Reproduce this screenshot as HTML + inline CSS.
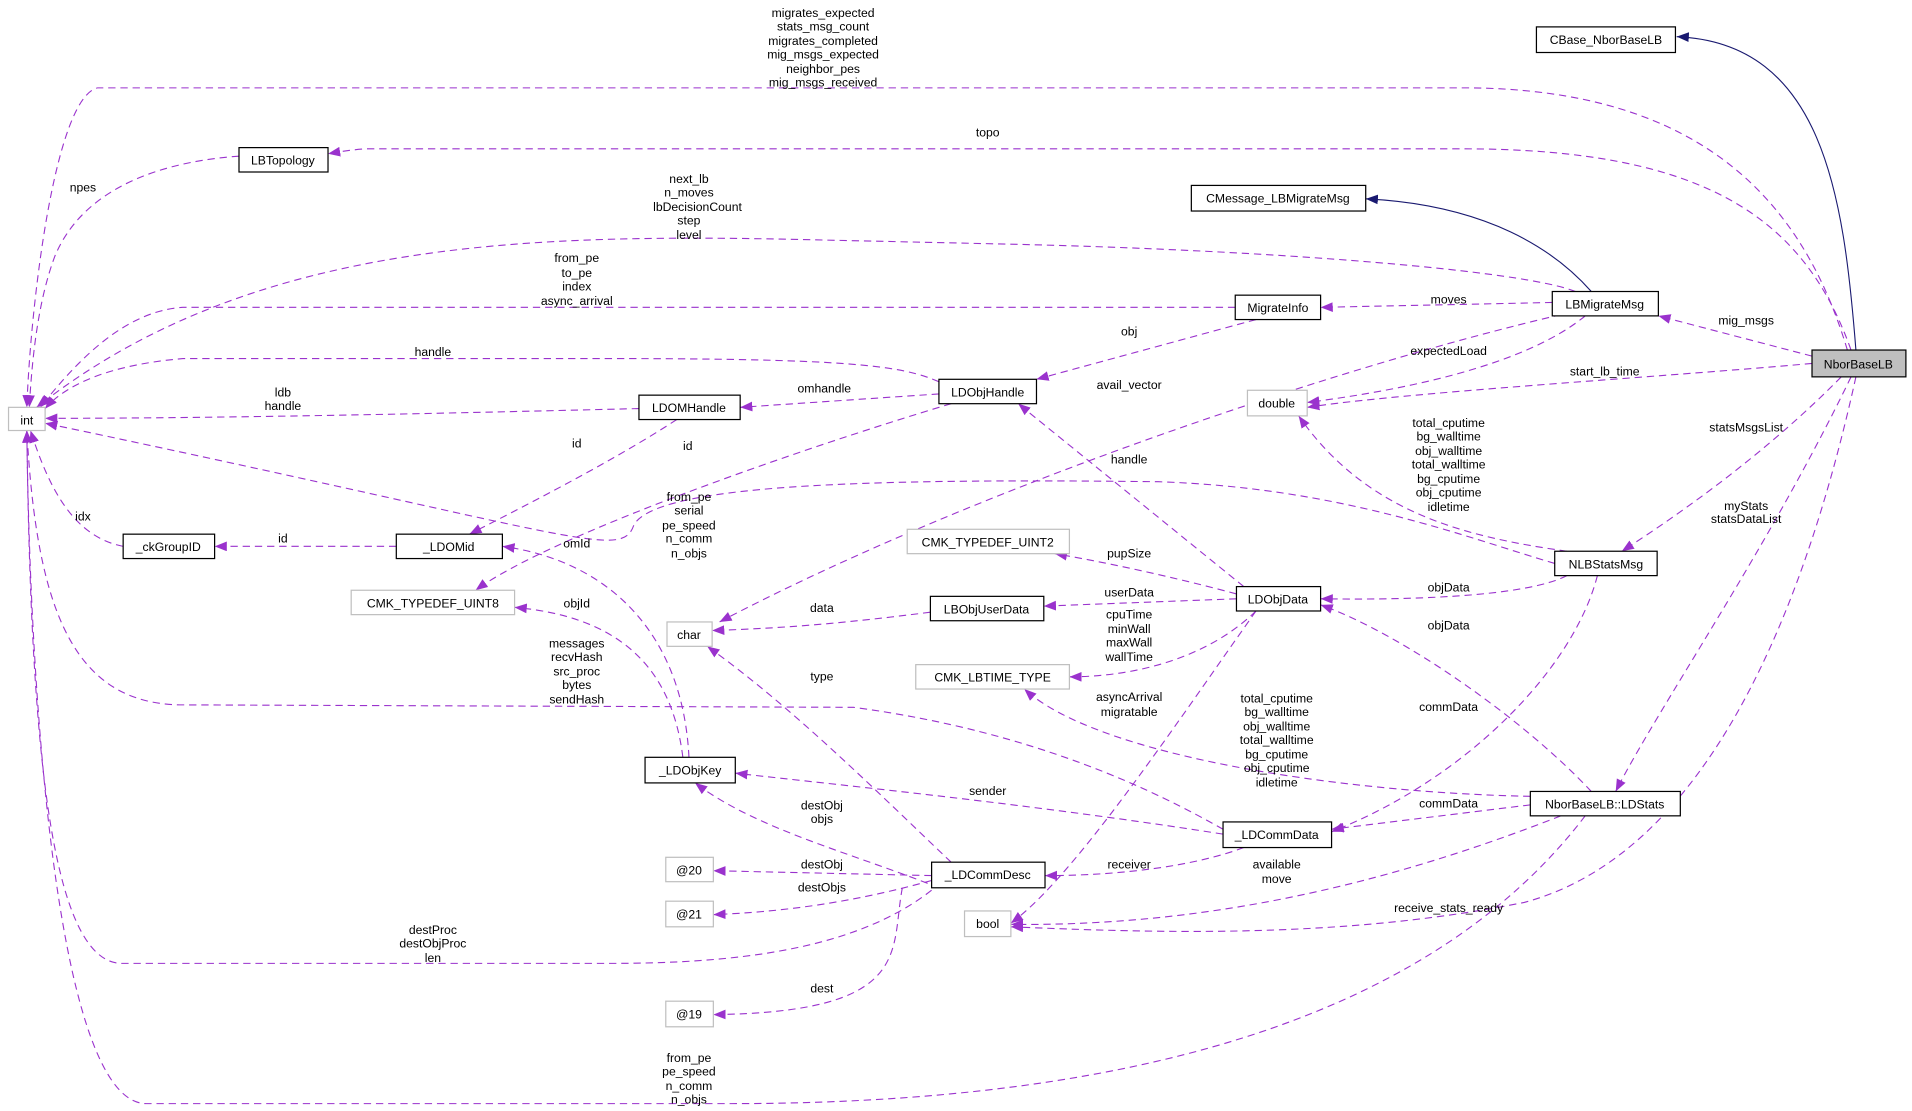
<!DOCTYPE html>
<html><head><meta charset="utf-8"><style>
html,body{margin:0;padding:0;background:#fff;}
svg{display:block;}
text{font-family:"Liberation Sans",Arial,sans-serif;font-size:10px;fill:#000;}
.e{fill:none;stroke:#9a32cd;stroke-width:0.9;stroke-dasharray:6,4;marker-end:url(#ap);}
.n{fill:none;stroke:#191970;stroke-width:0.9;marker-end:url(#an);}
.b{fill:#fff;stroke:#000;stroke-width:1;}
.g{fill:#fff;stroke:#bfbfbf;stroke-width:1;}
</style></head><body>
<svg width="1912" height="1111" viewBox="0 0 1568 911" xmlns="http://www.w3.org/2000/svg">
<defs>
<marker id="ap" markerUnits="userSpaceOnUse" markerWidth="12" markerHeight="10" refX="10" refY="4" orient="auto"><path d="M0,0 L10,4 L0,8 z" fill="#9a32cd"/></marker>
<marker id="an" markerUnits="userSpaceOnUse" markerWidth="12" markerHeight="10" refX="10" refY="4" orient="auto"><path d="M0,0 L10,4 L0,8 z" fill="#191970"/></marker>
</defs>
<!-- edges -->
<path class="n" d="M1522,287 C1512,160 1495,35 1375,30"/>
<path class="n" d="M1305,239 C1275,205 1220,168 1120,163"/>
<path class="e" d="M1515,287 C1480,170 1400,72 1200,72 L80,72 C45,80 25,250 22,334"/>
<path class="e" d="M1518,287 C1480,180 1400,122 1200,122 L300,122 C285,123 275,125 269,126"/>
<path class="e" d="M196,128 C140,132 70,150 45,210 C30,250 26,300 24,334"/>
<path class="e" d="M1292,239 C1250,222 1050,205 820,200 L640,196 C420,192 200,200 30,334"/>
<path class="e" d="M1013,252 L150,252 C100,255 60,300 33,334"/>
<path class="e" d="M1273,248 L1083,252"/>
<path class="e" d="M1300,259 C1250,300 1150,320 1072,330"/>
<path class="e" d="M1486,292 L1360,259"/>
<path class="e" d="M1486,298 C1350,310 1150,322 1072,334"/>
<path class="e" d="M1030,262 L850,311"/>
<path class="e" d="M770,313 C740,300 700,294 500,294 L150,294 C80,300 50,320 37,335"/>
<path class="e" d="M770,323 L607,334"/>
<path class="e" d="M524,335 C400,338 200,343 37,343"/>
<path class="e" d="M555,344 C500,380 420,420 385,438"/>
<path class="e" d="M780,331 C650,370 450,440 390,484"/>
<path class="e" d="M1280,258 C1100,300 800,400 590,510"/>
<path class="e" d="M1275,462 C1200,440 1100,400 950,395 C700,392 540,398 520,430 C510,460 480,440 37,347"/>
<path class="e" d="M1020,481 L835,331"/>
<path class="e" d="M1285,452 C1200,440 1120,420 1065,341"/>
<path class="e" d="M1014,487 C950,470 900,460 865,454"/>
<path class="e" d="M1014,491 L856,497"/>
<path class="e" d="M763,502 C700,510 650,515 584,517"/>
<path class="e" d="M1030,501 C990,540 930,555 877,555"/>
<path class="e" d="M1285,472 C1250,490 1150,492 1083,491"/>
<path class="e" d="M1305,649 C1250,590 1150,520 1083,496"/>
<path class="e" d="M1310,472 C1290,550 1200,640 1092,682"/>
<path class="e" d="M1255,660 L1092,680"/>
<path class="e" d="M1030,501 C960,600 880,720 829,757"/>
<path class="e" d="M1255,653 C1100,650 900,620 840,565"/>
<path class="e" d="M1003,680 C950,650 850,600 700,580 L150,578 C60,578 30,500 22,353"/>
<path class="e" d="M1003,684 C850,660 700,645 603,634"/>
<path class="e" d="M1020,695 C980,710 920,718 857,718"/>
<path class="e" d="M565,621 C560,520 500,460 412,448"/>
<path class="e" d="M560,621 C550,540 500,505 422,498"/>
<path class="e" d="M101,448 C60,440 40,400 25,353"/>
<path class="e" d="M325,448 L176,448"/>
<path class="e" d="M770,728 C700,700 620,680 570,642"/>
<path class="e" d="M780,707 C720,650 650,580 580,530"/>
<path class="e" d="M764,718 L585,714"/>
<path class="e" d="M764,722 C700,740 640,748 585,750"/>
<path class="e" d="M764,730 C700,780 600,790 500,790 L100,790 C40,790 25,600 22,353"/>
<path class="e" d="M740,728 C730,780 750,830 585,832"/>
<path class="e" d="M1280,669 C1150,720 1000,760 829,758"/>
<path class="e" d="M1522,309 C1480,500 1400,700 1250,740 C1100,770 950,765 829,760"/>
<path class="e" d="M1510,309 C1450,370 1380,420 1330,452"/>
<path class="e" d="M1518,309 C1450,450 1360,580 1325,649"/>
<path class="e" d="M1300,669 C1200,800 1000,905 600,905 L120,905 C50,905 25,600 22,353"/>
<!-- nodes -->
<rect class="b" x="1260" y="22" width="114" height="21"/><text x="1317" y="36" text-anchor="middle">CBase_NborBaseLB</text>
<rect x="1486" y="287" width="77" height="22" fill="#bfbfbf" stroke="#000"/><text x="1524" y="302" text-anchor="middle">NborBaseLB</text>
<rect class="b" x="196" y="121" width="73" height="20"/><text x="232" y="135" text-anchor="middle">LBTopology</text>
<rect class="b" x="977" y="152" width="143" height="21"/><text x="1048" y="166" text-anchor="middle">CMessage_LBMigrateMsg</text>
<rect class="b" x="1273" y="239" width="87" height="20"/><text x="1316" y="253" text-anchor="middle">LBMigrateMsg</text>
<rect class="b" x="1013" y="242" width="70" height="20"/><text x="1048" y="256" text-anchor="middle">MigrateInfo</text>
<rect class="b" x="770" y="311" width="80" height="20"/><text x="810" y="325" text-anchor="middle">LDObjHandle</text>
<rect class="b" x="524" y="324" width="83" height="20"/><text x="565" y="338" text-anchor="middle">LDOMHandle</text>
<rect class="g" x="1023" y="320" width="49" height="21"/><text x="1047" y="334" text-anchor="middle">double</text>
<rect class="g" x="7" y="334" width="30" height="19"/><text x="22" y="348" text-anchor="middle">int</text>
<rect class="b" x="101" y="438" width="75" height="20"/><text x="138" y="452" text-anchor="middle">_ckGroupID</text>
<rect class="b" x="325" y="438" width="87" height="20"/><text x="368" y="452" text-anchor="middle">_LDOMid</text>
<rect class="g" x="288" y="484" width="134" height="20"/><text x="355" y="498" text-anchor="middle">CMK_TYPEDEF_UINT8</text>
<rect class="g" x="744" y="434" width="133" height="20"/><text x="810" y="448" text-anchor="middle">CMK_TYPEDEF_UINT2</text>
<rect class="b" x="763" y="489" width="93" height="20"/><text x="809" y="503" text-anchor="middle">LBObjUserData</text>
<rect class="b" x="1014" y="481" width="69" height="20"/><text x="1048" y="495" text-anchor="middle">LDObjData</text>
<rect class="b" x="1275" y="452" width="84" height="20"/><text x="1317" y="466" text-anchor="middle">NLBStatsMsg</text>
<rect class="g" x="547" y="510" width="37" height="20"/><text x="565" y="524" text-anchor="middle">char</text>
<rect class="g" x="751" y="545" width="126" height="20"/><text x="814" y="559" text-anchor="middle">CMK_LBTIME_TYPE</text>
<rect class="b" x="529" y="621" width="74" height="21"/><text x="566" y="635" text-anchor="middle">_LDObjKey</text>
<rect class="b" x="1255" y="649" width="123" height="20"/><text x="1316" y="663" text-anchor="middle">NborBaseLB::LDStats</text>
<rect class="b" x="1003" y="674" width="89" height="21"/><text x="1047" y="688" text-anchor="middle">_LDCommData</text>
<rect class="g" x="546" y="703" width="39" height="20"/><text x="565" y="717" text-anchor="middle">@20</text>
<rect class="b" x="764" y="707" width="93" height="21"/><text x="810" y="721" text-anchor="middle">_LDCommDesc</text>
<rect class="g" x="546" y="739" width="39" height="21"/><text x="565" y="753" text-anchor="middle">@21</text>
<rect class="g" x="791" y="747" width="38" height="21"/><text x="810" y="761" text-anchor="middle">bool</text>
<rect class="g" x="546" y="821" width="39" height="21"/><text x="565" y="835" text-anchor="middle">@19</text>
<!-- labels -->
<g text-anchor="middle">
<text x="675" y="14">migrates_expected</text><text x="675" y="25">stats_msg_count</text><text x="675" y="37">migrates_completed</text><text x="675" y="48">mig_msgs_expected</text><text x="675" y="60">neighbor_pes</text><text x="675" y="71">mig_msgs_received</text>
<text x="810" y="112">topo</text>
<text x="68" y="157">npes</text>
<text x="565" y="150">next_lb</text><text x="565" y="161">n_moves</text><text x="572" y="173">lbDecisionCount</text><text x="565" y="184">step</text><text x="565" y="196">level</text>
<text x="473" y="215">from_pe</text><text x="473" y="227">to_pe</text><text x="473" y="238">index</text><text x="473" y="250">async_arrival</text>
<text x="1188" y="249">moves</text>
<text x="1432" y="266">mig_msgs</text>
<text x="1188" y="291">expectedLoad</text>
<text x="1316" y="308">start_lb_time</text>
<text x="926" y="275">obj</text>
<text x="355" y="292">handle</text>
<text x="676" y="322">omhandle</text>
<text x="232" y="325">ldb</text><text x="232" y="336">handle</text>
<text x="926" y="319">avail_vector</text>
<text x="473" y="367">id</text>
<text x="564" y="369">id</text>
<text x="1188" y="350">total_cputime</text><text x="1188" y="361">bg_walltime</text><text x="1188" y="373">obj_walltime</text><text x="1188" y="384">total_walltime</text><text x="1188" y="396">bg_cputime</text><text x="1188" y="407">obj_cputime</text><text x="1188" y="419">idletime</text>
<text x="1432" y="354">statsMsgsList</text>
<text x="926" y="380">handle</text>
<text x="565" y="411">from_pe</text><text x="565" y="422">serial</text><text x="565" y="434">pe_speed</text><text x="565" y="445">n_comm</text><text x="565" y="457">n_objs</text>
<text x="1432" y="418">myStats</text><text x="1432" y="429">statsDataList</text>
<text x="68" y="427">idx</text>
<text x="232" y="445">id</text>
<text x="473" y="449">omId</text>
<text x="926" y="457">pupSize</text>
<text x="1188" y="485">objData</text>
<text x="926" y="489">userData</text>
<text x="473" y="498">objId</text>
<text x="674" y="502">data</text>
<text x="926" y="507">cpuTime</text><text x="926" y="519">minWall</text><text x="926" y="530">maxWall</text><text x="926" y="542">wallTime</text>
<text x="1188" y="516">objData</text>
<text x="473" y="531">messages</text><text x="473" y="542">recvHash</text><text x="473" y="554">src_proc</text><text x="473" y="565">bytes</text><text x="473" y="577">sendHash</text>
<text x="674" y="558">type</text>
<text x="926" y="575">asyncArrival</text><text x="926" y="587">migratable</text>
<text x="1047" y="576">total_cputime</text><text x="1047" y="587">bg_walltime</text><text x="1047" y="599">obj_walltime</text><text x="1047" y="610">total_walltime</text><text x="1047" y="622">bg_cputime</text><text x="1047" y="633">obj_cputime</text><text x="1047" y="645">idletime</text>
<text x="1188" y="583">commData</text>
<text x="810" y="652">sender</text>
<text x="1188" y="662">commData</text>
<text x="674" y="664">destObj</text><text x="674" y="675">objs</text>
<text x="674" y="712">destObj</text>
<text x="926" y="712">receiver</text>
<text x="1047" y="712">available</text><text x="1047" y="724">move</text>
<text x="674" y="731">destObjs</text>
<text x="1188" y="748">receive_stats_ready</text>
<text x="355" y="766">destProc</text><text x="355" y="777">destObjProc</text><text x="355" y="789">len</text>
<text x="674" y="814">dest</text>
<text x="565" y="871">from_pe</text><text x="565" y="882">pe_speed</text><text x="565" y="894">n_comm</text><text x="565" y="905">n_objs</text>
</g>
</svg>
</body></html>
